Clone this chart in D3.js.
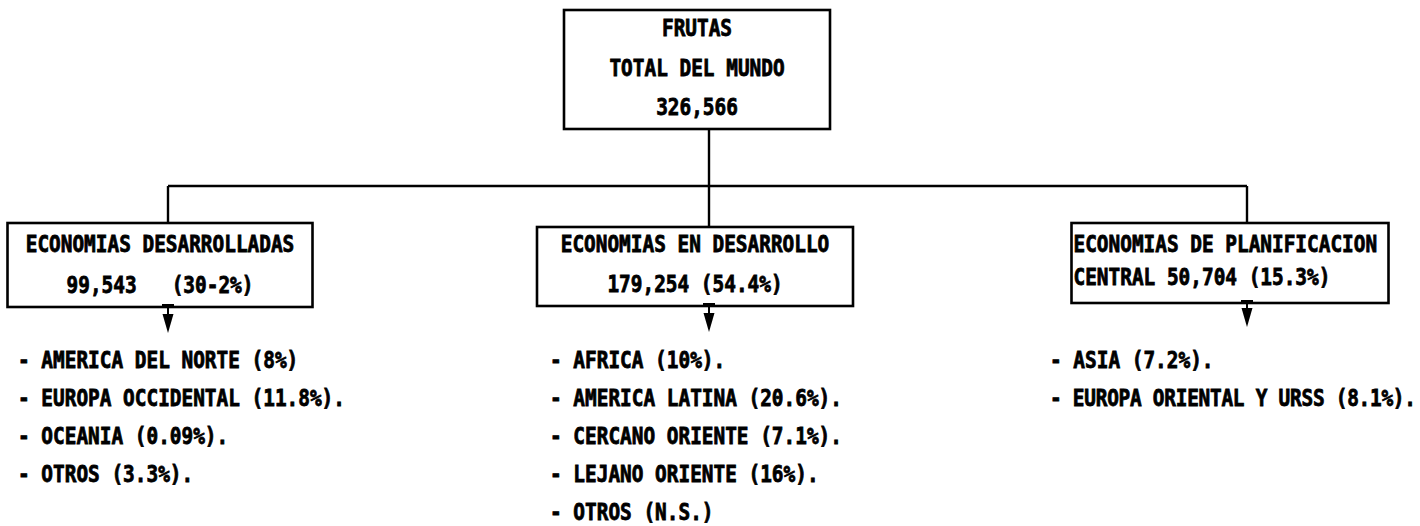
<!DOCTYPE html>
<html><head><meta charset="utf-8">
<script src="https://cdn.jsdelivr.net/npm/d3@7"></script>
<style>
html,body{margin:0;padding:0;background:#fff;}
svg{display:block;}
text{font-family:"DejaVu Sans Mono",monospace;font-weight:bold;fill:#000;stroke:#000;stroke-width:0.7px;white-space:pre;}
</style></head>
<body>
<script>
// ---- data ----
const rootLines = ["FRUTAS", "TOTAL DEL MUNDO", "326,566"];
const groupTitles = ["ECONOMIAS DESARROLLADAS", "ECONOMIAS EN DESARROLLO", "ECONOMIAS DE PLANIFICACION"];
const groupTitleCont = ["", "", "CENTRAL"];
const groupValues = ["99,543", "179,254", "50,704"];
const groupShares = ["(30-2%)", "(54.4%)", "(15.3%)"];
const regionsDeveloped = ["AMERICA DEL NORTE (8%)", "EUROPA OCCIDENTAL (11.8%).", "OCEANIA (0.09%).", "OTROS (3.3%)."];
const regionsDeveloping = ["AFRICA (10%).", "AMERICA LATINA (20.6%).", "CERCANO ORIENTE (7.1%).", "LEJANO ORIENTE (16%).", "OTROS (N.S.)"];
const regionsPlanned = ["ASIA (7.2%).", "EUROPA ORIENTAL Y URSS (8.1%)."];
const groupRegions = [regionsDeveloped, regionsDeveloping, regionsPlanned];

// ---- layout ----
const W = 1420, H = 526;
const FS = 19.4, SY = 1.17;
const svg = d3.select("body").append("svg").attr("width", W).attr("height", H);

function txt(s, x, y, anchor, maxW) {
  const t = svg.append("text")
    .attr("transform", `translate(${x},${y}) scale(1,${SY})`)
    .attr("font-size", FS)
    .attr("text-anchor", anchor || "start")
    .text(s);
  if (maxW) {
    const w = t.node().getComputedTextLength();
    if (w > maxW) t.attr("textLength", maxW).attr("lengthAdjust", "spacing");
  }
}
const sw = 2.4;
function line(x1, y1, x2, y2, w) {
  svg.append("line").attr("x1", x1).attr("y1", y1).attr("x2", x2).attr("y2", y2)
    .attr("stroke", "#000").attr("stroke-width", w || sw);
}
function rect(x0, y0, x1, y1) {
  svg.append("rect").attr("x", x0).attr("y", y0).attr("width", x1 - x0).attr("height", y1 - y0)
    .attr("fill", "none").attr("stroke", "#000").attr("stroke-width", 2.6);
}

// root box
const root = {x0: 564, x1: 830, y0: 10, y1: 129};
rect(root.x0, root.y0, root.x1, root.y1);
const rootY = d3.scalePoint().domain(d3.range(rootLines.length)).range([36, 115]);
rootLines.forEach((s, i) => txt(s, (root.x0 + root.x1) / 2, rootY(i), "middle"));

// groups
const gx = d3.scalePoint().domain(groupTitles).range([160, 1230]);
const boxW = [305, 316, 317];
const boxY0 = [223, 227, 223];
const boxY1 = [307, 306, 303];
const connOff = [8, 14, 17];
const line2Y = [293, 292, 285];
const line2Sep = ["   ", " ", " "];
const align = ["middle", "middle", "start"];
const listX = [18, 550, 1050];
const tipY = [333, 332, 327];
const barY = 186;

const connX = groupTitles.map((g, i) => gx(g) + connOff[i]);
// root stem + horizontal bar
line(connX[1], root.y1, connX[1], barY);
line(connX[0], barY, connX[2], barY);

const listY = d3.scaleLinear().domain([0, 1]).range([368, 406]);

groupTitles.forEach((g, i) => {
  const cx = gx(g), bw = boxW[i];
  const x0 = cx - bw / 2, x1 = cx + bw / 2;
  line(connX[i], barY, connX[i], boxY0[i]);
  rect(x0, boxY0[i], x1, boxY1[i]);
  const tx = align[i] === "middle" ? cx : x0 + 2;
  txt(g, tx, 252, align[i]);
  const l2 = [groupTitleCont[i], groupValues[i]].filter(d => d).join(" ") + line2Sep[i] + groupShares[i];
  txt(l2, tx, line2Y[i], align[i]);
  // arrow
  const ax = connX[i];
  line(ax - 6, boxY1[i] - 2, ax + 6, boxY1[i] - 2, 2);
  line(ax, boxY1[i] - 2, ax, tipY[i] - 10, 2);
  svg.append("path")
    .attr("d", d3.line()([[ax - 5.5, tipY[i] - 19], [ax + 5.5, tipY[i] - 19], [ax, tipY[i]]]) + "Z")
    .attr("fill", "#000");
  // list
  groupRegions[i].forEach((r, j) => txt("- " + r, listX[i], listY(j), "start", W - 4 - listX[i]));
});
</script>
</body></html>
